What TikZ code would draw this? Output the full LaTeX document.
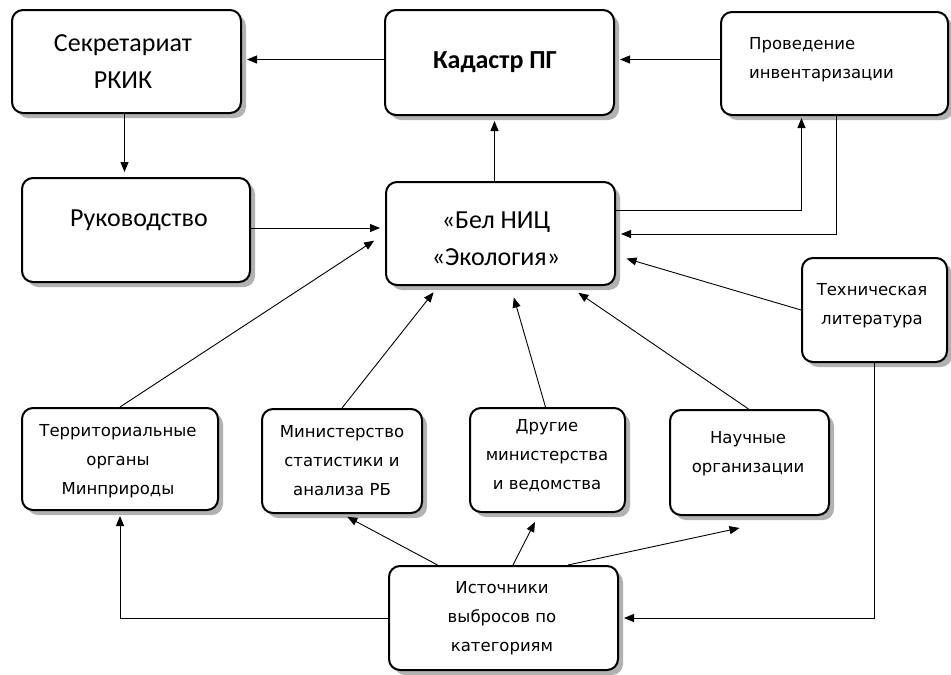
\documentclass[tikz,border=0pt]{standalone}
\usepackage{fontspec}
\setmainfont{Carlito}
\newfontfamily\smallf{DejaVu Sans}
\usetikzlibrary{arrows.meta,shadows}
\begin{document}
\begin{tikzpicture}[x=1pt,y=-1pt,
  box/.style={draw=black, line width=2pt, rounded corners=11pt, fill=white,
    drop shadow={shadow xshift=5pt, shadow yshift=-5pt, fill=black, opacity=0.3}},
  bigtxt/.style={font=\fontsize{26}{37}\selectfont, align=center, inner sep=0pt},
  smalltxt/.style={font=\smallf\fontsize{16.5}{29}\selectfont, align=center, inner sep=0pt},
  arr/.style={draw=black, line width=0.9pt, -{Triangle[length=10pt,width=8pt]}, shorten >=5pt}]
\useasboundingbox (0,0) rectangle (951,675);
\fill[white] (0,0) rectangle (951,675);

% boxes
\node[box, minimum width=229pt, minimum height=103pt] (sec) at (126.5,61.5) {};
\node[box, minimum width=229pt, minimum height=105pt] (kad) at (499.5,62.5) {};
\node[box, minimum width=227pt, minimum height=103pt] (prov) at (834.5,63.5) {};
\node[box, minimum width=228pt, minimum height=104pt] (ruk) at (136,230) {};
\node[box, minimum width=229pt, minimum height=103pt] (bel) at (500.5,233.5) {};
\node[box, minimum width=145pt, minimum height=104pt] (tech) at (874.5,310) {};
\node[box, minimum width=196pt, minimum height=102pt] (terr) at (120,459) {};
\node[box, minimum width=160pt, minimum height=104pt] (min) at (342,461) {};
\node[box, minimum width=155pt, minimum height=104pt] (dr) at (547.5,460) {};
\node[box, minimum width=159pt, minimum height=105pt] (nauch) at (749.5,462.5) {};
\node[box, minimum width=229pt, minimum height=104pt] (ist) at (503.5,618) {};

% texts
\node[bigtxt] (sect) at (123,62) {Секретариат\\РКИК};
\node[bigtxt, font=\bfseries\fontsize{26}{37}\selectfont] (kadt) at (495,62) {Кадастр ПГ};
\node[smalltxt, anchor=west, align=left] (provt) at (749,60) {Проведение\\инвентаризации};
\node[bigtxt] (rukt) at (139,220) {Руководство};
\node[bigtxt] (belt) at (496,239) {«Бел НИЦ\\«Экология»};
\node[smalltxt] (techt) at (872,306) {Техническая\\литература};
\node[smalltxt] (terrt) at (118,461) {Территориальные\\органы\\Минприроды};
\node[smalltxt] (mint) at (342,461) {Министерство\\статистики и\\анализа РБ};
\node[smalltxt] (drt) at (547,456) {Другие\\министерства\\и ведомства};
\node[smalltxt] (naucht) at (748,454) {Научные\\организации};
\node[smalltxt] (istt) at (502,618) {Источники\\выбросов по\\категориям};

% connectors
\draw[arr] ([yshift=3pt]kad.west) -- ([yshift=3pt]kad.west -| sec.east);
\draw[arr] ([yshift=4pt]prov.west) -- ([yshift=4pt]prov.west -| kad.east);
\draw[arr] ([xshift=-2pt]sec.south) -- ([xshift=-2pt]sec.south |- ruk.north);
\draw[arr] ([yshift=2pt]ruk.east) -- ([yshift=2pt]ruk.east -| bel.west);
\draw[arr] ([xshift=-6pt]bel.north) -- ([xshift=-6pt]bel.north |- kad.south);
\draw[arr, shorten >=2pt] ([yshift=23pt]bel.east) -| ([xshift=-33pt]prov.south);
\draw[arr] ([xshift=2pt]prov.south) |- ([yshift=-0.5pt]bel.east);
\draw[arr, shorten >=11pt] (tech.west) -- ([yshift=-22pt]bel.east);
\draw[arr] (tech.south) |- (ist.east);
\draw[arr, shorten >=13pt] (terr.north) -- (bel.west);
\draw[arr, shorten >=8pt] (min.north) -- ([xshift=-62pt]bel.south);
\draw[arr, shorten >=12pt] ([xshift=-2pt]dr.north) -- ([xshift=10pt]bel.south);
\draw[arr, shorten >=12pt] ([xshift=-1pt]nauch.north) -- ([xshift=68pt]bel.south);
\draw[arr] (ist.west) -| (terr.south);
\draw[arr, shorten >=6pt] ([xshift=-66pt]ist.north) -- (min.south);
\draw[arr, shorten >=10pt] ([xshift=9.5pt]ist.north) -- ([xshift=-8pt]dr.south);
\draw[arr, shorten >=0pt] ([xshift=64.5pt]ist.north) -- ([xshift=-10pt,yshift=-12pt]nauch.south);
\end{tikzpicture}
\end{document}
